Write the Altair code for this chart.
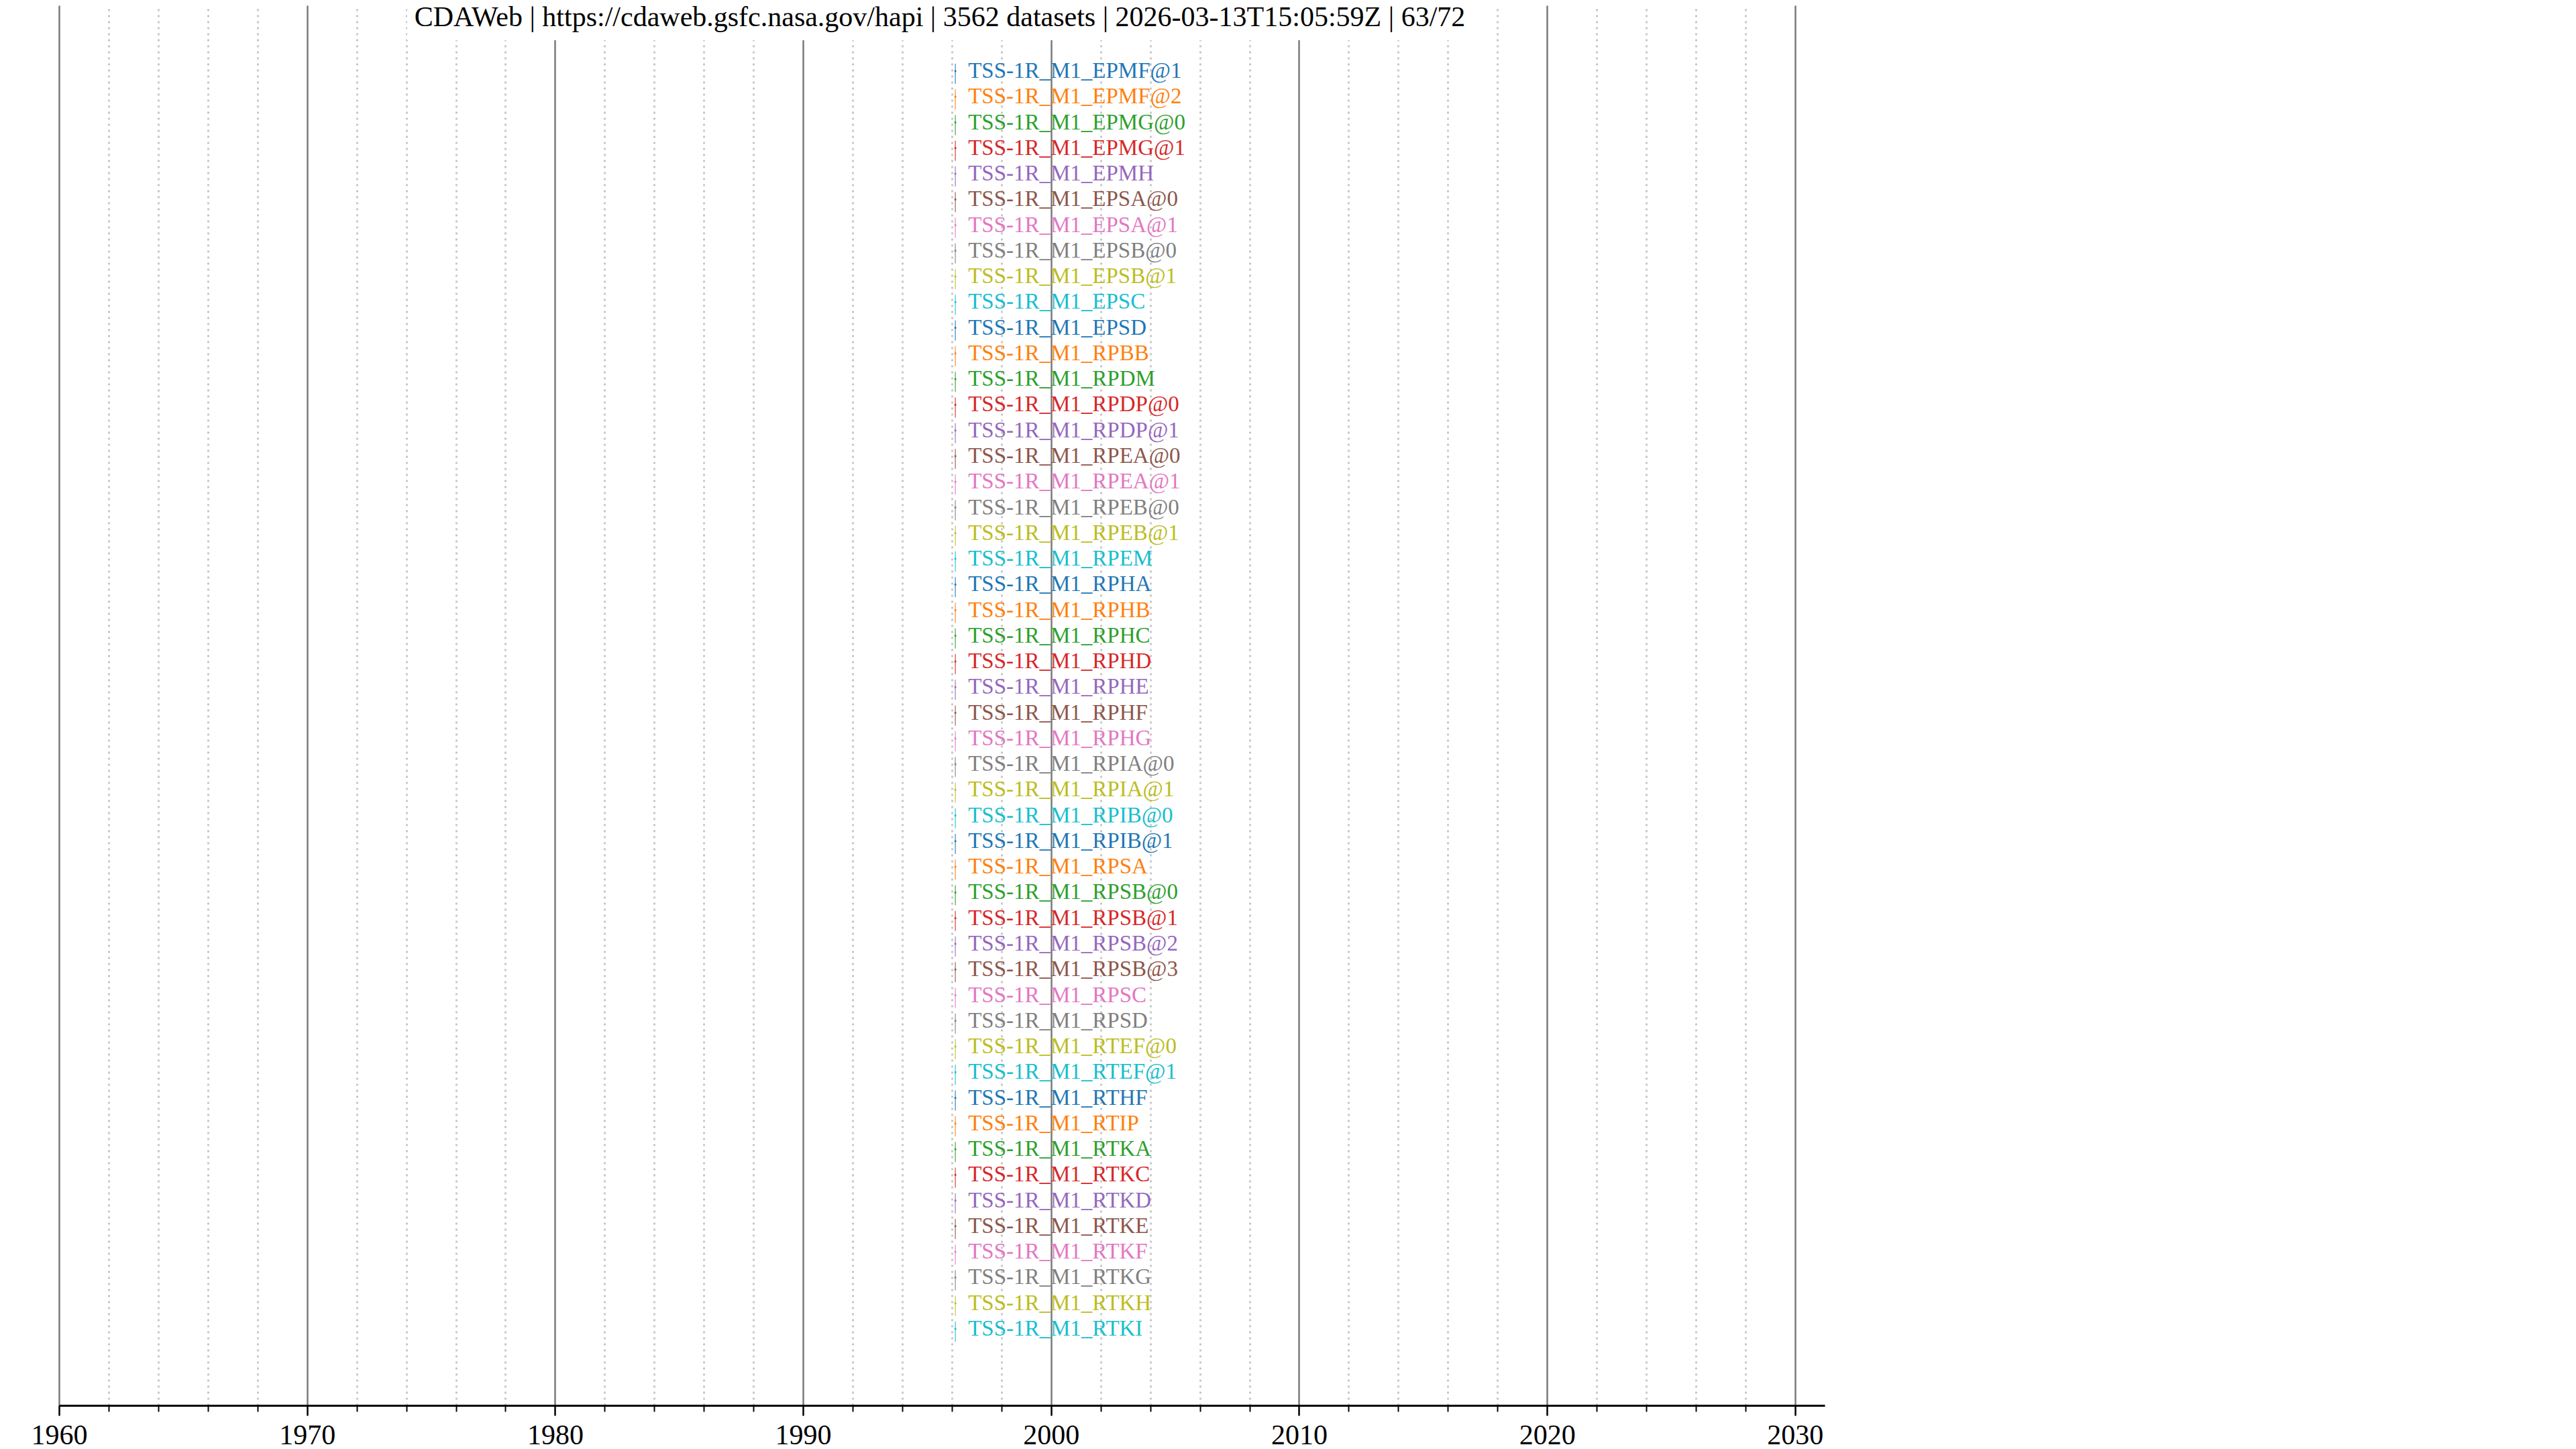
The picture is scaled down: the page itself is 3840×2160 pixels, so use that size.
import altair as alt
import pandas as pd

TITLE = "CDAWeb | https://cdaweb.gsfc.nasa.gov/hapi | 3562 datasets | 2026-03-13T15:05:59Z | 63/72"

LABELS = [
    "TSS-1R_M1_EPMF@1", "TSS-1R_M1_EPMF@2", "TSS-1R_M1_EPMG@0", "TSS-1R_M1_EPMG@1",
    "TSS-1R_M1_EPMH", "TSS-1R_M1_EPSA@0", "TSS-1R_M1_EPSA@1", "TSS-1R_M1_EPSB@0",
    "TSS-1R_M1_EPSB@1", "TSS-1R_M1_EPSC", "TSS-1R_M1_EPSD", "TSS-1R_M1_RPBB",
    "TSS-1R_M1_RPDM", "TSS-1R_M1_RPDP@0", "TSS-1R_M1_RPDP@1", "TSS-1R_M1_RPEA@0",
    "TSS-1R_M1_RPEA@1", "TSS-1R_M1_RPEB@0", "TSS-1R_M1_RPEB@1", "TSS-1R_M1_RPEM",
    "TSS-1R_M1_RPHA", "TSS-1R_M1_RPHB", "TSS-1R_M1_RPHC", "TSS-1R_M1_RPHD",
    "TSS-1R_M1_RPHE", "TSS-1R_M1_RPHF", "TSS-1R_M1_RPHG", "TSS-1R_M1_RPIA@0",
    "TSS-1R_M1_RPIA@1", "TSS-1R_M1_RPIB@0", "TSS-1R_M1_RPIB@1", "TSS-1R_M1_RPSA",
    "TSS-1R_M1_RPSB@0", "TSS-1R_M1_RPSB@1", "TSS-1R_M1_RPSB@2", "TSS-1R_M1_RPSB@3",
    "TSS-1R_M1_RPSC", "TSS-1R_M1_RPSD", "TSS-1R_M1_RTEF@0", "TSS-1R_M1_RTEF@1",
    "TSS-1R_M1_RTHF", "TSS-1R_M1_RTIP", "TSS-1R_M1_RTKA", "TSS-1R_M1_RTKC",
    "TSS-1R_M1_RTKD", "TSS-1R_M1_RTKE", "TSS-1R_M1_RTKF", "TSS-1R_M1_RTKG",
    "TSS-1R_M1_RTKH", "TSS-1R_M1_RTKI",
]
# every dataset of this mission covers the same short interval (STS-75, 1996)
STARTS = ["1996-02-22"] * len(LABELS)
STOPS = ["1996-03-10"] * len(LABELS)

MAJOR_YEARS = list(range(1960, 2031, 10))
MINOR_YEARS = [y for y in range(1960, 2031, 2) if y % 10 != 0]
X_DOMAIN = ["1960-01-01", "2031-03-13"]
ROW_DOMAIN = [-2.561, 51.979]

PALETTE = ["#1f77b4", "#ff7f0e", "#2ca02c", "#d62728", "#9467bd",
           "#8c564b", "#e377c2", "#7f7f7f", "#bcbd22", "#17becf"]

df = pd.DataFrame({"label": LABELS, "start": STARTS, "stop": STOPS,
                   "row": list(range(len(LABELS)))})

FONT = "Liberation Serif"
W, H = 2632, 2087

xscale = alt.Scale(domain=X_DOMAIN)
yenc = alt.Y("row:Q", axis=None,
             scale=alt.Scale(domain=ROW_DOMAIN, reverse=True, nice=False, zero=False))
cenc = alt.Color("label:N", scale=alt.Scale(domain=LABELS, range=PALETTE), legend=None)

minor_axis = alt.Axis(
    orient="bottom",
    values=[alt.DateTime(year=y, month=1, date=1) for y in MINOR_YEARS],
    labels=False, title=None, domain=False,
    tickColor="black", tickWidth=2, tickSize=9,
    grid=True, gridColor="#c8c8c8", gridWidth=3, gridDash=[3, 6],
)
major_axis = alt.Axis(
    orient="bottom",
    values=[alt.DateTime(year=y, month=1, date=1) for y in MAJOR_YEARS],
    format="%Y", title=None,
    labelFont=FONT, labelFontSize=42, labelColor="black", labelPadding=9,
    labelFlush=False, labelOverlap=False,
    domain=True, domainColor="black", domainWidth=3,
    tickColor="black", tickWidth=2.5, tickSize=15,
    grid=True, gridColor="#7a7a7a", gridWidth=2.5,
)

base = alt.Chart(df)

ticks = base.mark_tick(orient="vertical", size=30, thickness=1.5, yOffset=4).encode(
    x=alt.X("start:T", scale=xscale, axis=minor_axis),
    y=yenc, color=cenc,
)
dots = base.mark_square(size=7, opacity=1).encode(
    x=alt.X("start:T", scale=xscale, axis=major_axis),
    y=yenc, color=cenc,
)
texts = base.mark_text(align="left", baseline="middle", dx=19,
                       font=FONT, fontSize=33).encode(
    x=alt.X("start:T", scale=xscale, axis=None),
    y=yenc, color=cenc, text="label:N",
)
title_bg = alt.Chart(alt.Data(values=[{"t": TITLE}])).mark_rect(color="white").encode(
    x=alt.value(519), x2=alt.value(2108), y=alt.value(0), y2=alt.value(52),
)
title_txt = alt.Chart(alt.Data(values=[{"t": TITLE}])).mark_text(
    font=FONT, fontSize=42, color="black", align="center", baseline="alphabetic",
).encode(
    x=alt.value(W / 2 - 3), y=alt.value(31), text="t:N",
)

chart = alt.layer(ticks, dots, texts, title_bg, title_txt).resolve_axis(
    x="independent"
).resolve_scale(x="shared").properties(
    width=W, height=H,
    autosize=alt.AutoSizeParams(type="none"),
    padding={"left": 80, "top": 0, "right": 120, "bottom": 70},
).configure_view(stroke=None)

chart.save("out.html", embed_options={"renderer": "svg", "actions": False})
